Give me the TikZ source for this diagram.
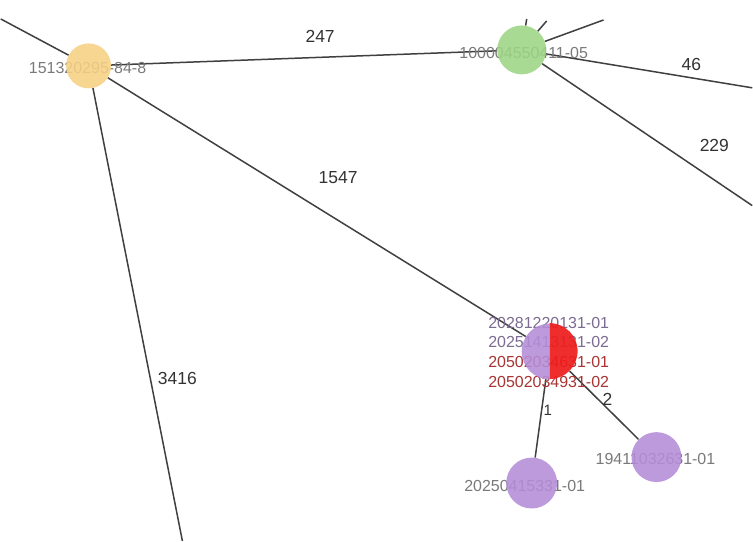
\documentclass[tikz,border=0pt]{standalone}
\usepackage{fontspec}
\setmainfont{Liberation Sans}
\definecolor{edgec}{HTML}{404040}
\definecolor{orangec}{HTML}{F7D184}
\definecolor{greenc}{HTML}{9CD585}
\definecolor{purplec}{HTML}{B58DD8}
\definecolor{redc}{HTML}{EE1C1C}
\definecolor{labc}{HTML}{7A7A7A}
\definecolor{labp}{HTML}{7C6C92}
\definecolor{labr}{HTML}{A83434}
\definecolor{elab}{HTML}{333333}
\pgfdeclarelayer{edges}
\pgfdeclarelayer{labels}
\pgfsetlayers{edges,labels,main}
\tikzset{
  edge/.style={draw=edgec, line width=1.5pt},
  vnode/.style={circle, minimum size=#1, inner sep=0pt, fill opacity=0.88},
  nlab/.style={text=labc, font=\fontsize{16}{16}\selectfont, inner sep=0pt},
  elabel/.style={text=elab, font=\fontsize{17.5}{17.5}\selectfont, inner sep=0pt},
}
\begin{document}
\begin{tikzpicture}[x=1pt,y=-1pt]
\begin{pgfonlayer}{edges}
\useasboundingbox[fill=white] (0,0) rectangle (753,542);
\end{pgfonlayer}
% nodes
\node[vnode=45pt, fill=orangec] (o) at (88,66) {};
\node[vnode=49pt, fill=greenc] (g) at (522,50) {};
\node[vnode=51pt, fill=purplec] (pb) at (532,484) {};
\node[vnode=50pt, fill=purplec] (pr) at (657,458) {};
\node[vnode=56pt] (s) at (550,352) {};
\fill[purplec, fill opacity=0.88] (s.south) arc[start angle=-90, end angle=-270, radius=28pt] -- cycle;
\fill[redc, fill opacity=0.92] (s.north) arc[start angle=90, end angle=-90, radius=28pt] -- cycle;
% free ends
\coordinate (e1) at (0,19);
\coordinate (e2) at (182,542);
\coordinate (e3) at (753,88);
\coordinate (e4) at (753,206);
\coordinate (e5) at (604,20);
\coordinate (e6) at (547,21);
\coordinate (e7) at (527,19);
\begin{pgfonlayer}{edges}
\draw[edge] (o) -- (e1);
\draw[edge] (o) -- (g);
\draw[edge] (o) -- (s);
\draw[edge] (o) -- (e2);
\draw[edge] (g) -- (e3);
\draw[edge] (g) -- (e4);
\draw[edge] (g) -- (e5);
\draw[edge] (g) -- (e6);
\draw[edge] (g) -- (e7);
\draw[edge] (s) -- (pb);
\draw[edge] (s) -- (pr);
\end{pgfonlayer}
\begin{pgfonlayer}{labels}
% edge labels
\node[elabel] (l247) at (320,36) {247};
\node[elabel] (l1547) at (338,178) {1547};
\node[elabel] (l3416) at (177,379) {3416};
\node[elabel] (l46) at (692,65) {46};
\node[elabel] (l229) at (715,146) {229};
\node[elabel,font=\fontsize{15}{15}\selectfont] (l1) at (548,411) {1};
\node[elabel] (l2) at (608,400) {2};
% node labels
\node[nlab] (to) at (87,68) {151320295-84-8};
\node[nlab] (tg) at (524,53) {100004550411-05};
\node[nlab,text=labp] (ts1) at (549,324) {20281220131-01};
\node[nlab,text=labp] (ts2) at (549,343) {20251413131-02};
\node[nlab,text=labr] (ts3) at (549,363) {20502034631-01};
\node[nlab,text=labr] (ts4) at (549,383) {20502034931-02};
\node[nlab] (tpb) at (525,487) {20250415331-01};
\node[nlab] (tpr) at (656,460) {19411032631-01};
\end{pgfonlayer}
\end{tikzpicture}
\end{document}
